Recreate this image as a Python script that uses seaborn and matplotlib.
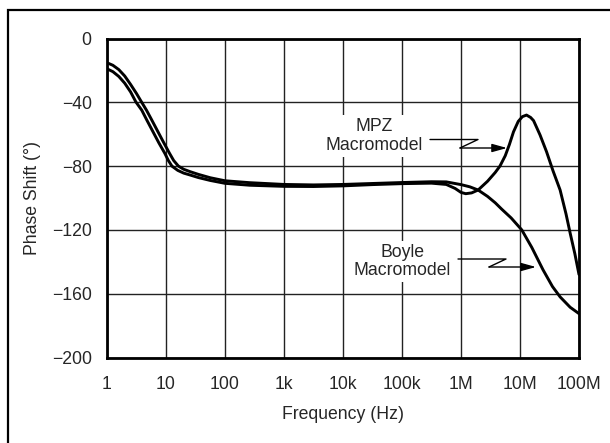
import numpy as np
import pandas as pd
import matplotlib
matplotlib.use("Agg")
import matplotlib.pyplot as plt
from matplotlib.patches import Rectangle
from matplotlib.lines import Line2D
import seaborn as sns

# ---- data (frequency given as log10(Hz), phase in degrees) ----
boyle_logf = [0.00, 0.10, 0.20, 0.30, 0.40, 0.50, 0.585, 0.67, 0.75, 0.85, 0.95,
              1.06, 1.13, 1.21, 1.30, 1.41, 1.55, 1.75, 2.00, 2.42, 3.00, 3.50,
              4.00, 4.50, 5.00, 5.50, 5.75, 6.00, 6.15, 6.29, 6.45, 6.58, 6.69,
              6.85, 7.03, 7.20, 7.39, 7.55, 7.68, 7.85, 8.00]
boyle_phase = [-15.2, -16.8, -19.5, -23.5, -28.8, -34.5, -39.8, -45.0, -50.5, -57.5, -64.5,
               -72.0, -76.5, -80.0, -82.0, -83.5, -85.2, -87.3, -89.2, -90.4, -91.5, -91.8,
               -91.5, -90.9, -90.3, -89.8, -89.9, -91.6, -93.0, -95.0, -99.0, -103.0, -107.0,
               -112.5, -120.0, -131.0, -145.0, -155.5, -162.0, -168.5, -172.5]

mpz_logf = [0.00, 0.10, 0.20, 0.30, 0.40, 0.49, 0.59, 0.68, 0.78, 0.88, 0.98,
            1.04, 1.10, 1.20, 1.30, 1.41, 1.55, 1.75, 2.00, 2.42, 3.00, 3.50,
            4.00, 4.50, 5.00, 5.50, 5.75, 5.90, 6.00, 6.08, 6.18, 6.29, 6.45,
            6.58, 6.66, 6.75, 6.82, 6.89, 6.97, 7.04, 7.11, 7.18, 7.23, 7.34,
            7.45, 7.56, 7.68, 7.78, 7.85, 7.93, 8.00]
mpz_phase = [-19.0, -20.8, -23.8, -28.0, -33.5, -39.8, -45.0, -51.5, -58.5, -65.5, -72.0,
             -76.5, -80.0, -82.7, -84.4, -85.6, -87.2, -89.0, -90.8, -92.0, -92.7, -92.8,
             -92.4, -91.6, -91.0, -90.7, -91.5, -94.0, -96.5, -97.3, -96.8, -95.0, -89.5,
             -84.0, -80.0, -73.5, -66.5, -58.5, -52.0, -49.0, -48.0, -49.5, -51.5, -60.5,
             -71.0, -83.0, -95.0, -110.0, -122.0, -135.0, -148.0]

x_ticks_exp = [0, 1, 2, 3, 4, 5, 6, 7, 8]
x_tick_labels = ["1", "10", "100", "1k", "10k", "100k", "1M", "10M", "100M"]
y_ticks = [0, -40, -80, -120, -160, -200]

df = pd.concat([
    pd.DataFrame({"freq": np.power(10.0, boyle_logf), "phase": boyle_phase, "model": "Boyle"}),
    pd.DataFrame({"freq": np.power(10.0, mpz_logf), "phase": mpz_phase, "model": "MPZ"}),
], ignore_index=True)

sns.set_style("white")
plt.rcParams["font.family"] = ["Liberation Sans", "DejaVu Sans"]
FS = 12.7

fig = plt.figure(figsize=(6.10, 4.43), dpi=100)
W, H = 610, 443
ax = fig.add_axes([107 / W, 1 - 357.5 / H, (579 - 107) / W, (357.5 - 38.5) / H])

sns.lineplot(data=df, x="freq", y="phase", units="model", estimator=None,
             color="black", linewidth=2.1, ax=ax, legend=False, sort=True)

ax.set_xscale("log")
ax.set_xlim(1, 1e8)
ax.set_ylim(-200, 0)
ax.set_xticks([10.0 ** e for e in x_ticks_exp])
ax.set_xticklabels(x_tick_labels, fontsize=FS)
ax.minorticks_off()
ax.set_yticks(y_ticks)
ax.set_yticklabels([str(v).replace("-", "\u2212") for v in y_ticks], fontsize=FS)
ax.tick_params(axis="both", length=0)
ax.tick_params(axis="x", pad=13)
ax.tick_params(axis="y", pad=11)
ax.grid(True, color="#222222", linewidth=1.0)
ax.set_axisbelow(True)
for s in ax.spines.values():
    s.set_visible(True)
    s.set_color("black")
    s.set_linewidth(2.0)

ax.set_xlabel("Frequency (Hz)", fontsize=FS, labelpad=10)
ax.set_ylabel("Phase Shift (\u00b0)", fontsize=FS, labelpad=8)

# annotations
def afr(x, y):
    return ((x - 107) / 472, (357.5 - y) / 319)

box = dict(facecolor="white", edgecolor="none", pad=2)
ax.text(*afr(374, 136), "MPZ\nMacromodel", transform=ax.transAxes, ha="center",
        va="center", fontsize=FS, bbox=box, linespacing=1.15, zorder=3)
ax.text(*afr(402, 261.5), "Boyle\nMacromodel", transform=ax.transAxes, ha="center",
        va="center", fontsize=FS, bbox=box, linespacing=1.15, zorder=3)

def zig(p0, p1, p2, p3):
    pts = [afr(*p) for p in (p0, p1, p2)]
    ax.add_line(Line2D([p[0] for p in pts], [p[1] for p in pts], transform=ax.transAxes,
                       color="black", linewidth=1.0, zorder=4))
    ax.annotate("", xy=afr(*p3), xytext=afr(*p2), xycoords="axes fraction",
                textcoords="axes fraction",
                arrowprops=dict(arrowstyle="-|>,head_length=0.9,head_width=0.25",
                                color="black", lw=1.0, shrinkA=0, shrinkB=0), zorder=4)

zig((430, 139.5), (478, 139.5), (460, 148), (507, 148))
zig((458, 259), (506, 259), (489, 267), (536, 267))

# outer frame
fig.add_artist(Rectangle((8 / W, -0.1), 1.0, 1 - 10 / H + 0.1, transform=fig.transFigure,
                         fill=False, edgecolor="black", linewidth=1.6))

fig.savefig("out.png", dpi=100)
